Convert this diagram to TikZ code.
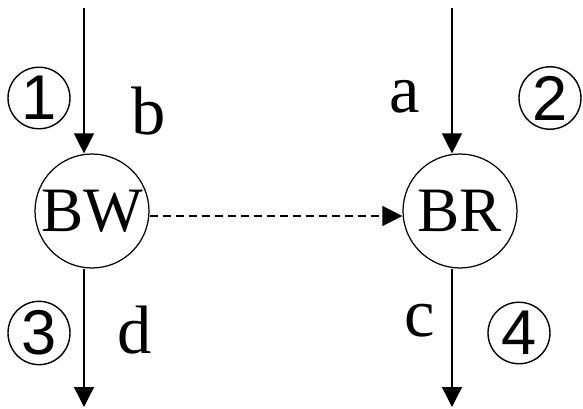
\documentclass[tikz,border=0pt]{standalone}
\usepackage{fontspec}
\setmainfont{Liberation Serif}
\newfontfamily\digitfont{Liberation Sans}
\usetikzlibrary{arrows.meta, positioning, shapes.geometric}
\tikzset{
  unit/.style={circle, draw, line width=0.7pt, minimum size=2.28cm, inner sep=0pt, font=\fontsize{36}{36}\selectfont},
  flow/.style={line width=0.8pt, -{Triangle[length=0.4cm, width=0.4cm]}},
  mark label/.style={inner sep=0pt, font=\fontsize{39}{39}\selectfont},
  port/.style={ellipse, draw, line width=0.8pt, minimum width=1.24cm, minimum height=1.1cm, inner sep=0pt, font=\digitfont\fontsize{36}{36}\selectfont}
}
\begin{document}
\begin{tikzpicture}[x=0.02cm, y=-0.02cm]
                \useasboundingbox (0,0) rectangle (583,409);
                
                \node[unit] (bw) at (92,211) {BW};
                \node[unit] (br) at (460,211) {BR};
                
                \coordinate (topL) at (84,8);
                \coordinate (topR) at (452,8);
                \coordinate (botL) at (84,407);
                \coordinate (botR) at (452,407);
                
                \draw[flow] (topL) -- (topL |- bw.north);
                \draw[flow] (topR) -- (topR |- br.north);
                \draw[flow] (botL |- bw.south) -- (botL);
                \draw[flow] (botR |- br.south) -- (botR);
                \draw[flow, dash pattern=on 0.16cm off 0.1cm] ([yshift=-0.1cm]bw.east) -- ([yshift=-0.1cm]br.west);
                
                \node[port] (p1) at (39,98) {1};
                \node[port] (p2) at (550,98) {2};
                \node[port] (p3) at (39,333) {3};
                \node[port] (p4) at (519,333) {4};
                
                \node[mark label] (lb) at (149,111) {b};
                \node[mark label] (la) at (405,97) {a};
                \node[mark label] (ld) at (135,330) {d};
                \node[mark label] (lc) at (420,321) {c};
            \end{tikzpicture}
\end{document}
